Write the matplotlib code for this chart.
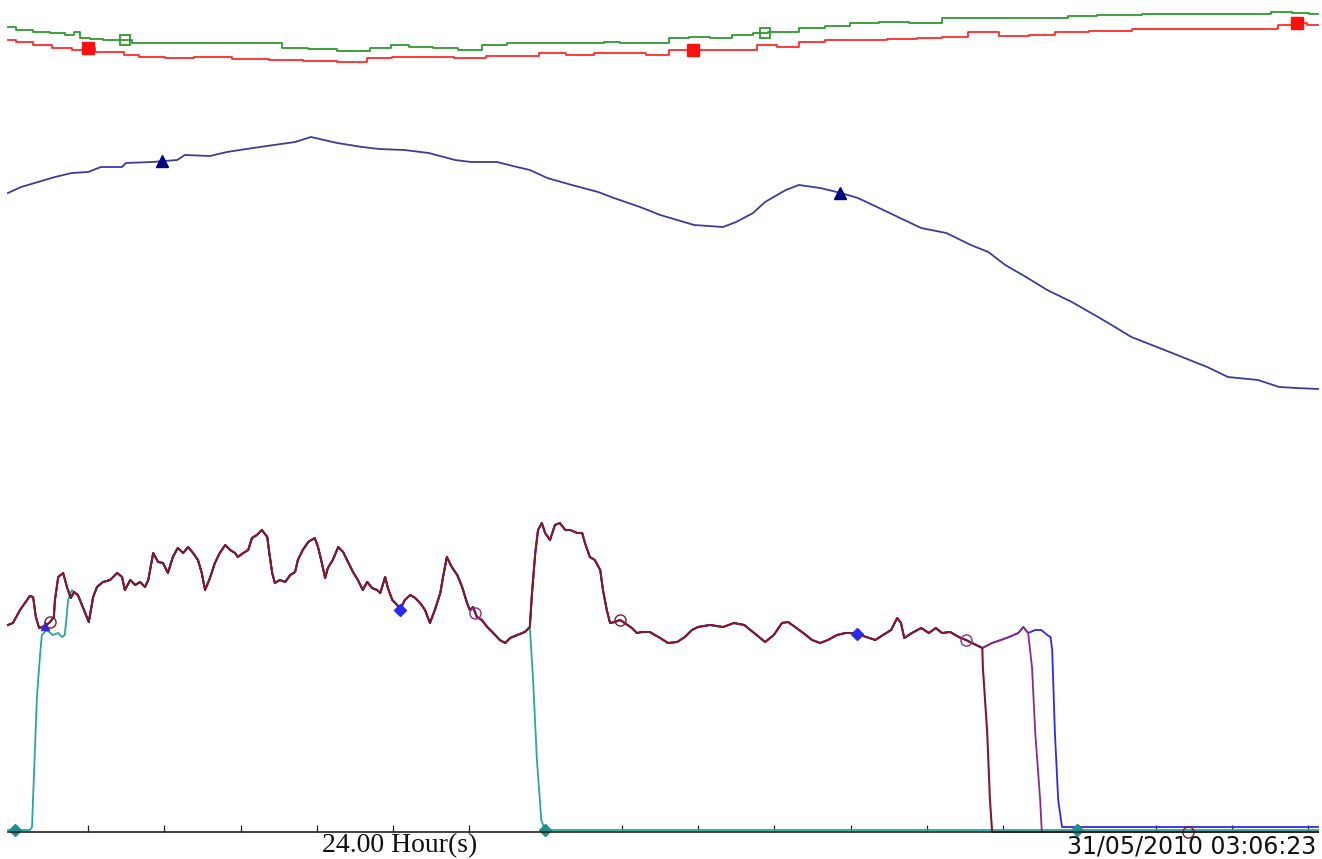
import numpy as np
import matplotlib
matplotlib.use("Agg")
import matplotlib.pyplot as plt

# ---------------- data (time in hours, level in arbitrary units) ----------------
green_t = [0.00, 0.31, 0.62, 0.93, 1.17, 1.25, 1.39, 1.63, 1.85, 2.14, 2.40, 2.78, 3.17, 3.70, 4.18,
           4.78, 5.26, 5.72, 6.34, 6.94, 7.11, 7.57, 8.02, 8.48, 8.87, 9.42, 9.88, 10.26, 10.81, 11.03,
           11.41, 11.95, 12.26, 12.68, 13.03, 13.49, 13.80, 14.03, 14.25, 14.73, 15.19, 15.65, 16.27,
           16.73, 17.50, 18.12, 19.35, 19.49, 20.43, 21.13, 21.97, 22.90, 23.36, 23.67, 24.00]
green_v = [832, 829, 827, 826, 824, 827, 821, 820, 819, 819, 816, 816, 816, 816, 816,
           816, 811, 810, 808, 811, 814, 812, 811, 809, 814, 816, 816, 816, 816, 817,
           816, 816, 821, 822, 821, 824, 826, 827, 827, 831, 833, 836, 837,
           836, 841, 841, 841, 843, 844, 845, 845, 845, 847, 846, 845]

red_t = [0.00, 0.31, 0.62, 1.01, 1.32, 1.47, 1.70, 2.09, 2.16, 2.64, 3.10, 3.70, 4.49, 5.09, 5.72,
         6.34, 6.80, 7.26, 7.88, 8.48, 9.03, 9.49, 9.95, 10.50, 10.96, 11.41, 11.95, 12.26, 12.57,
         12.95, 13.49, 13.94, 14.25, 14.73, 15.19, 15.79, 16.42, 16.87, 17.35, 17.81, 18.51, 18.89,
         19.49, 20.12, 21.05, 21.66, 22.35, 23.12, 23.43, 23.60, 24.00]
red_v = [819, 817, 814, 811, 809, 811, 807, 807, 804, 802, 801, 802, 800, 799, 798,
         797, 801, 802, 802, 801, 803, 803, 806, 804, 806, 806, 804, 809, 809,
         809, 809, 814, 812, 817, 819, 819, 820, 821, 822, 827, 823, 824,
         827, 828, 830, 830, 830, 830, 834, 836, 834]

navy_t = [0.00, 0.24, 0.55, 0.86, 1.17, 1.47, 1.70, 2.09, 2.16, 2.64, 3.10, 3.24, 3.70, 4.01, 4.49,
          4.87, 5.26, 5.55, 5.79, 6.03, 6.49, 6.80, 7.26, 7.71, 8.19, 8.48, 8.96, 9.25, 9.56, 9.88,
          10.33, 10.81, 11.10, 11.58, 11.95, 12.26, 12.57, 13.10, 13.34, 13.65, 13.87, 14.25, 14.49,
          14.88, 15.26, 15.57, 15.96, 16.42, 16.73, 17.19, 17.64, 17.96, 18.27, 18.65, 19.04, 19.49,
          19.97, 20.28, 20.58, 21.05, 21.51, 21.97, 22.35, 22.90, 23.29, 23.60, 24.00]
navy_v = [666, 672, 677, 682, 686, 687, 692, 692, 696, 697, 699, 704, 703, 707, 711,
          714, 717, 722, 719, 716, 712, 710, 709, 706, 699, 697, 697, 693, 689, 681,
          674, 667, 661, 652, 644, 639, 634, 632, 637, 646, 657, 669, 674,
          671, 666, 661, 651, 639, 631, 626, 614, 607, 594, 582, 569, 557,
          542, 532, 522, 512, 502, 492, 482, 479, 472, 471, 470]

# common part of the four lower traces
main_t = [0.00, 0.09, 0.22, 0.31, 0.40, 0.46, 0.51, 0.57, 0.68, 0.77,
          0.84, 0.86, 0.92, 1.01, 1.08, 1.15, 1.21, 1.28, 1.37, 1.48,
          1.56, 1.63, 1.74, 1.87, 2.00, 2.09, 2.14, 2.24, 2.33, 2.42,
          2.51, 2.57, 2.66, 2.75, 2.84, 2.93, 3.02, 3.11, 3.21, 3.30,
          3.39, 3.48, 3.55, 3.61, 3.70, 3.79, 3.88, 3.98, 4.07, 4.16,
          4.21, 4.31, 4.40, 4.47, 4.56, 4.65, 4.75, 4.78, 4.84, 4.89,
          4.98, 5.08, 5.17, 5.26, 5.31, 5.40, 5.50, 5.62, 5.68, 5.75,
          5.81, 5.86, 5.95, 6.05, 6.14, 6.23, 6.32, 6.41, 6.50, 6.58,
          6.67, 6.76, 6.82, 6.91, 6.96, 7.04, 7.13, 7.18, 7.27, 7.37,
          7.46, 7.55, 7.64, 7.73, 7.82, 7.92, 7.97, 8.04, 8.13, 8.23,
          8.32, 8.41, 8.46, 8.52, 8.59, 8.68, 8.78, 8.89, 9.01, 9.11,
          9.20, 9.33, 9.47, 9.56, 9.60, 9.66, 9.71, 9.78, 9.84, 9.93,
          10.02, 10.11, 10.21, 10.30, 10.43, 10.52, 10.57, 10.66, 10.75, 10.85,
          10.90, 10.97, 11.03, 11.12, 11.21, 11.30, 11.43, 11.52, 11.62, 11.76,
          11.85, 11.95, 12.09, 12.26, 12.40, 12.53, 12.64, 12.86, 13.10, 13.30,
          13.49, 13.60, 13.76, 13.87, 14.03, 14.18, 14.29, 14.42, 14.57, 14.73,
          14.88, 15.02, 15.19, 15.34, 15.50, 15.72, 15.89, 16.03, 16.18, 16.29,
          16.36, 16.42, 16.56, 16.73, 16.87, 17.00, 17.11, 17.26, 17.42, 17.55,
          17.74, 17.85]
main_v = [234, 236, 249, 256, 263, 262, 242, 231, 233, 237,
          242, 259, 282, 286, 272, 261, 267, 264, 252, 237,
          262, 272, 277, 279, 286, 282, 269, 279, 274, 277,
          272, 279, 306, 297, 296, 286, 302, 311, 306, 312,
          306, 299, 286, 269, 281, 296, 306, 314, 309, 306,
          302, 306, 309, 321, 324, 329, 322, 309, 286, 276,
          279, 277, 284, 287, 299, 309, 317, 321, 312, 296,
          281, 291, 299, 312, 307, 297, 287, 279, 269, 277,
          271, 269, 266, 282, 271, 259, 254, 249, 259, 264,
          261, 256, 249, 236, 249, 266, 282, 302, 292, 284,
          272, 256, 249, 252, 242, 239, 232, 226, 219, 216,
          221, 224, 227, 232, 266, 306, 329, 336, 326, 319,
          334, 336, 329, 329, 326, 326, 316, 302, 299, 289,
          269, 249, 236, 237, 239, 236, 231, 226, 227, 227,
          224, 221, 216, 217, 222, 229, 232, 234, 232, 236,
          234, 229, 222, 217, 224, 236, 237, 232, 226, 219,
          216, 219, 224, 226, 226, 222, 219, 224, 229, 241,
          236, 221, 226, 231, 226, 231, 226, 227, 222, 219,
          214, 211]

teal_start_t = [0.00, 0.40, 0.44, 0.46, 0.53, 0.59, 0.62, 0.71, 0.82, 0.92, 0.99, 1.04, 1.08, 1.10, 1.17]
teal_start_v = [29, 29, 32, 62, 162, 206, 224, 229, 224, 226, 222, 224, 246, 259, 269]
teal_end_t = [9.62, 9.69, 9.77, 9.84, 24.00]
teal_end_v = [179, 99, 39, 29, 29]

late_t = [18.03, 18.19, 18.34, 18.51, 18.60, 18.69]   # shared by blue and purple
late_v = [216, 219, 222, 226, 232, 226]
purple_end_t = [18.76, 18.82, 18.91, 18.94, 24.00]
purple_end_v = [192, 126, 59, 27, 27]
blue_end_t = [18.82, 18.93, 19.04, 19.10, 19.13, 19.18, 19.24, 19.31, 24.00]
blue_end_v = [229, 229, 224, 222, 209, 126, 59, 32, 32]
maroon_end_t = [17.86, 17.94, 17.99, 18.03, 24.00]
maroon_end_v = [192, 126, 59, 27, 27]

# marker times
green_mk = [2.14, 13.87]
red_mk = [1.47, 12.55, 23.62]
navy_mk = [2.82, 15.24]
teal_mk = [0.13, 9.84, 19.59]
blue_mk = [7.18, 15.56]
blue_tri_mk = [0.68]
purple_mk = [8.56, 17.55]
maroon_mk = [0.77, 11.21, 21.62]

tick_start, tick_step = 1.466, 1.397

# ---------------- build series ----------------
mt = np.array(main_t)
mv = np.array(main_v)
sel = (mt > 1.17) & (mt <= 9.56)
teal_t = np.concatenate([teal_start_t, mt[sel], teal_end_t])
teal_v = np.concatenate([teal_start_v, mv[sel], teal_end_v])
blue_t = np.concatenate([mt, late_t, blue_end_t])
blue_v = np.concatenate([mv, late_v, blue_end_v])
purple_t = np.concatenate([mt, late_t, purple_end_t])
purple_v = np.concatenate([mv, late_v, purple_end_v])
maroon_t = np.concatenate([mt, maroon_end_t])
maroon_v = np.concatenate([mv, maroon_end_v])

# ---------------- figure ----------------
W, H = 1322, 859
fig = plt.figure(figsize=(W / 100, H / 100), dpi=100, facecolor="white")
ax = fig.add_axes([8 / W, 27 / H, 1310 / W, 832 / H])
ax.set_xlim(0, 24)
ax.set_ylim(27, 859)
for s in ("left", "right", "top"):
    ax.spines[s].set_visible(False)
ax.spines["bottom"].set_color("#222222")
ax.spines["bottom"].set_linewidth(1.2)
ax.set_yticks([])
ax.set_xticks(np.arange(tick_start, 24, tick_step))
ax.set_xticklabels([])
ax.tick_params(axis="x", direction="in", length=5, width=0.9, color="#222222")

lw = 1.3
C_GREEN = "#2f9a2f"
C_RED = "#ff2a2a"
C_NAVY = "#3c3c9c"
C_TEAL = "#2aa59f"
C_BLUE = "#2a2aee"
C_PURPLE = "#8a2a8a"
C_MAROON = "#7e1a2a"

ax.plot(green_t, green_v, color=C_GREEN, lw=lw, drawstyle="steps-mid", clip_on=False)
ax.plot(red_t, red_v, color=C_RED, lw=lw, drawstyle="steps-mid", clip_on=False)
ax.plot(navy_t, navy_v, color=C_NAVY, lw=lw, clip_on=False)

ax.plot(teal_t, teal_v, color=C_TEAL, lw=lw, clip_on=False)
ax.plot(blue_t, blue_v, color=C_BLUE, lw=lw, clip_on=False)
ax.plot(purple_t, purple_v, color=C_PURPLE, lw=lw, clip_on=False)
ax.plot(maroon_t, maroon_v, color=C_MAROON, lw=1.5, clip_on=False)

# markers
ax.plot(green_mk, np.interp(green_mk, green_t, green_v), ls="none", marker="s", ms=7,
        mfc="none", mec=C_GREEN, mew=1.3, clip_on=False)
ax.plot(red_mk, np.interp(red_mk, red_t, red_v), ls="none", marker="s", ms=8,
        mfc="#ff1010", mec="#ff1010", clip_on=False)
ax.plot(navy_mk, np.interp(navy_mk, navy_t, navy_v), ls="none", marker="^", ms=9,
        mfc="#000080", mec="#000080", clip_on=False)
ax.plot(teal_mk, np.interp(teal_mk, teal_t, teal_v), ls="none", marker="D", ms=6,
        mfc="#1f8f8a", mec="#1f8f8a", clip_on=False)
ax.plot(blue_mk, np.interp(blue_mk, blue_t, blue_v), ls="none", marker="D", ms=6,
        mfc=C_BLUE, mec=C_BLUE, clip_on=False)
ax.plot(blue_tri_mk, np.interp(blue_tri_mk, blue_t, blue_v), ls="none", marker="^", ms=6,
        mfc=C_BLUE, mec=C_BLUE, clip_on=False)
ax.plot(purple_mk, np.interp(purple_mk, purple_t, purple_v), ls="none", marker="o", ms=8,
        mfc="none", mec=C_PURPLE, mew=1.0, clip_on=False)
ax.plot(maroon_mk, np.interp(maroon_mk, maroon_t, maroon_v), ls="none", marker="o", ms=8,
        mfc="none", mec=C_MAROON, mew=1.0, clip_on=False)

fig.text(400 / W, 13 / H, "24.00 Hour(s)", ha="center", va="center",
         family="Liberation Serif", size=20, color="#111111")
fig.text(1316 / W, 13 / H, "31/05/2010 03:06:23", ha="right", va="center",
         family="DejaVu Sans", size=17, color="#111111")

fig.savefig("out.png", dpi=100, facecolor="white")
